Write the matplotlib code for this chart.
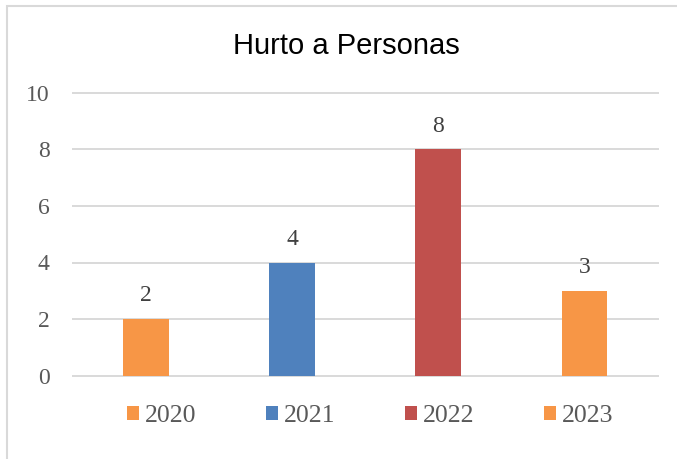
import matplotlib
matplotlib.use("Agg")
import matplotlib.pyplot as plt
from matplotlib.patches import Rectangle

years = ["2020", "2021", "2022", "2023"]
values = [2, 4, 8, 3]
colors = ["#F79646", "#4F81BD", "#C0504D", "#F79646"]
title = "Hurto a Personas"
yticks = [0, 2, 4, 6, 8, 10]

W, H = 677, 459
fig = plt.figure(figsize=(W / 100, H / 100), dpi=100)

# light chart border (only top/left fall inside the picture)
fig.patches.append(Rectangle((6.5 / W, -0.1), 1.2, 1 - 5.7 / H + 0.1,
                             transform=fig.transFigure, fill=False,
                             edgecolor="#D9D9D9", linewidth=1.5))

ax = fig.add_axes([72.7 / W, 1 - 375.7 / H, 585 / W, (375.7 - 92.7) / H])

x = range(len(years))
bars = []
for i in x:
    b = ax.bar(i, values[i], width=0.3125, color=colors[i], label=years[i], zorder=3)
    bars.append(b)
    ax.annotate(str(values[i]), (i, values[i]), xytext=(0, 12.7),
                textcoords="offset points", ha="center", va="baseline",
                fontsize=17, family="Liberation Serif", color="#404040")

ax.set_xlim(-0.5, 3.5)
ax.set_ylim(0, 10)
ax.set_yticks(yticks)
ax.set_xticks([])
ax.yaxis.grid(True, color="#D9D9D9", linewidth=1.4)
for gl in ax.get_ygridlines():
    gl.set_clip_on(False)
ax.set_axisbelow(True)
for s in ax.spines.values():
    s.set_visible(False)
ax.tick_params(axis="y", length=0, pad=16.5, labelsize=17, labelcolor="#595959")
for lbl in ax.get_yticklabels():
    lbl.set_family("Liberation Serif")

fig.text(346.7 / W, 1 - 54.3 / H, title, ha="center", va="baseline",
         fontsize=21, family="Liberation Sans", color="black")

leg = fig.legend(handles=bars, labels=years, loc="center", ncol=4,
                 bbox_to_anchor=(370 / W, 1 - 416 / H), frameon=False,
                 prop={"family": "Liberation Serif", "size": 18.5},
                 handlelength=0.47, handleheight=0.5, handletextpad=0.23,
                 columnspacing=2.7, borderaxespad=0)
for t in leg.get_texts():
    t.set_color("#595959")

fig.savefig("out.png", dpi=100)
